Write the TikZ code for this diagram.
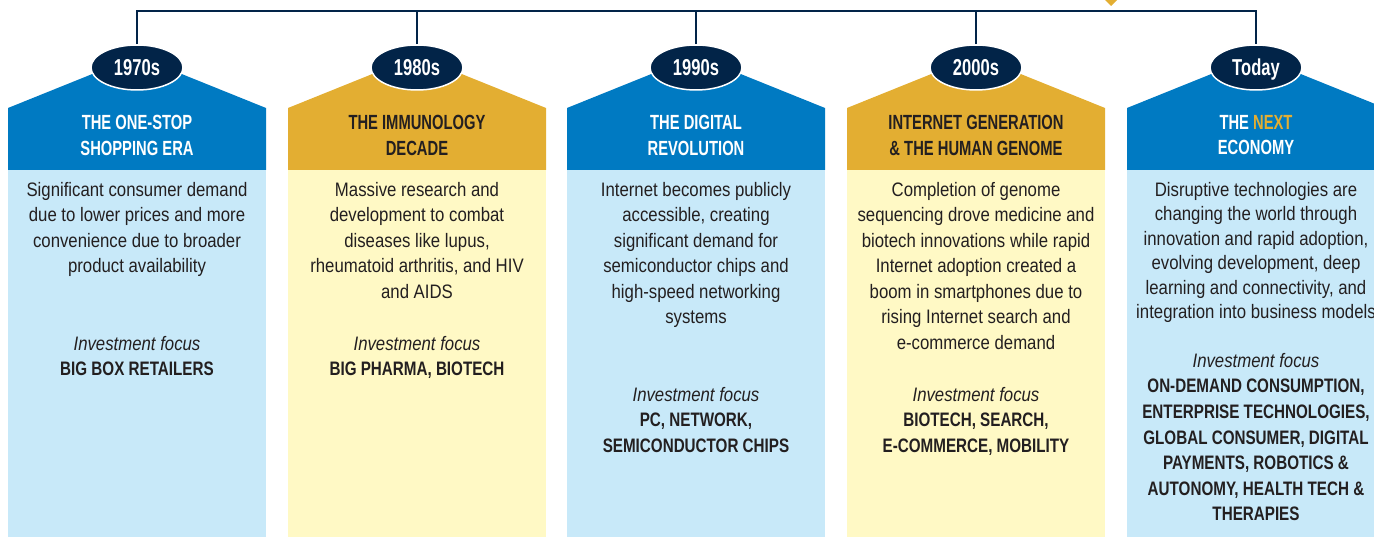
\documentclass[tikz,border=0pt]{standalone}
\usepackage{fontspec}
\setmainfont{Liberation Sans}[FakeStretch=0.86]
\newfontfamily\headfont{Liberation Sans}[FakeStretch=0.72]
\newfontfamily\capsfont{Liberation Sans}[FakeStretch=0.78]
\usepackage{tikz}
\usetikzlibrary{positioning}
\usetikzlibrary{shapes.geometric}
\definecolor{navy}{RGB}{2,36,72}
\definecolor{blueh}{RGB}{0,122,194}
\definecolor{goldh}{RGB}{227,174,50}
\definecolor{bluel}{RGB}{200,233,249}
\definecolor{goldl}{RGB}{255,249,197}
\definecolor{ink}{RGB}{35,31,32}

\begin{document}
\begin{tikzpicture}[x=1pt, y=-1pt,
	year/.style={ellipse, draw=white, line width=1.5pt, fill=navy, minimum width=92pt, minimum height=45pt, inner sep=0pt, text=white, text height=16.5pt, text depth=0pt, font=\headfont\bfseries\fontsize{23}{23}\selectfont},
	head/.style={align=center, inner sep=0pt, anchor=north, font=\headfont\bfseries\fontsize{20.5}{25.5}\selectfont},
	body/.style={align=center, inner sep=0pt, anchor=north, text=ink, font=\fontsize{19.5}{25.5}\selectfont},
	focus/.style={body, font=\fontsize{19.5}{25.6}\selectfont},
	link/.style={draw=navy, line width=2.5pt}]
		\useasboundingbox (0,0) rectangle (1374,537);
		% era boxes
		\fill[blueh] (8,170) -- (8,108) -- (137,56) -- (266,108) -- (266,170) -- cycle;
		\fill[bluel] (8,170) rectangle (266,537);
		\fill[goldh] (288,170) -- (288,108) -- (417,56) -- (546,108) -- (546,170) -- cycle;
		\fill[goldl] (288,170) rectangle (546,537);
		\fill[blueh] (567,170) -- (567,108) -- (696,56) -- (825,108) -- (825,170) -- cycle;
		\fill[bluel] (567,170) rectangle (825,537);
		\fill[goldh] (847,170) -- (847,108) -- (976,56) -- (1105,108) -- (1105,170) -- cycle;
		\fill[goldl] (847,170) rectangle (1105,537);
		\fill[blueh] (1127,170) -- (1127,108) -- (1256,56) -- (1385,108) -- (1385,170) -- cycle;
		\fill[bluel] (1127,170) rectangle (1385,537);
		\fill[goldh] (1105,0) -- (1117,0) -- (1111,6) -- cycle;
		% years
		\node[year] (y70) at (137,67.5) {1970s};
		\node[year] (y80) at (417,67.5) {1980s};
		\node[year] (y90) at (696,67.5) {1990s};
		\node[year] (y00) at (976,67.5) {2000s};
		\node[year] (ynow) at (1256,67.5) {Today};
		\coordinate (top) at (0,11);
		\draw[link] (y70.north) |- (ynow.north |- top) -- (ynow.north);
		\draw[link] (y80.north) -- (y80.north |- top);
		\draw[link] (y90.north) -- (y90.north |- top);
		\draw[link] (y00.north) -- (y00.north |- top);
		% headings
		\node[head, text=white] (h70) at (137,115) {THE ONE-STOP\\SHOPPING ERA};
		\node[head, text=ink] (h80) at (417,115) {THE IMMUNOLOGY\\DECADE};
		\node[head, text=white] (h90) at (696,115) {THE DIGITAL\\REVOLUTION};
		\node[head, text=ink] (h00) at (976,115) {INTERNET GENERATION\\\& THE HUMAN GENOME};
		\node[head, text=white] (hnow) at (1256,115) {THE \textcolor{goldh}{NEXT}\\ECONOMY};
		% descriptions
		\node[body] (b70) at (137,182) {Significant consumer demand\\due to lower prices and more\\convenience due to broader\\product availability};
		\node[body] (b80) at (417,182) {Massive research and\\development to combat\\diseases like lupus,\\rheumatoid arthritis, and HIV\\and AIDS};
		\node[body] (b90) at (696,182) {Internet becomes publicly\\accessible, creating\\significant demand for\\semiconductor chips and\\high-speed networking\\systems};
		\node[body] (b00) at (976,182) {Completion of genome\\sequencing drove medicine and\\biotech innovations while rapid\\Internet adoption created a\\boom in smartphones due to\\rising Internet search and\\e-commerce demand};
		\node[body, font=\fontsize{19.5}{24.5}\selectfont] (bnow) at (1256,182) {Disruptive technologies are\\changing the world through\\innovation and rapid adoption,\\evolving development, deep\\learning and connectivity, and\\integration into business models};
		% investment focus
		\node[focus] (f70) at (137,336) {\textit{Investment focus}\\{\capsfont\bfseries BIG BOX RETAILERS}};
		\node[focus] (f80) at (417,336) {\textit{Investment focus}\\{\capsfont\bfseries BIG PHARMA, BIOTECH}};
		\node[focus] (f90) at (696,387) {\textit{Investment focus}\\{\capsfont\bfseries PC, NETWORK,}\\{\capsfont\bfseries SEMICONDUCTOR CHIPS}};
		\node[focus] (f00) at (976,387) {\textit{Investment focus}\\{\capsfont\bfseries BIOTECH, SEARCH,}\\{\capsfont\bfseries E-COMMERCE, MOBILITY}};
		\node[focus] (fnow) at (1256,353) {\textit{Investment focus}\\{\capsfont\bfseries ON-DEMAND CONSUMPTION,}\\{\capsfont\bfseries ENTERPRISE TECHNOLOGIES,}\\{\capsfont\bfseries GLOBAL CONSUMER, DIGITAL}\\{\capsfont\bfseries PAYMENTS, ROBOTICS \&}\\{\capsfont\bfseries AUTONOMY, HEALTH TECH \&}\\{\capsfont\bfseries THERAPIES}};
\end{tikzpicture}
\end{document}
